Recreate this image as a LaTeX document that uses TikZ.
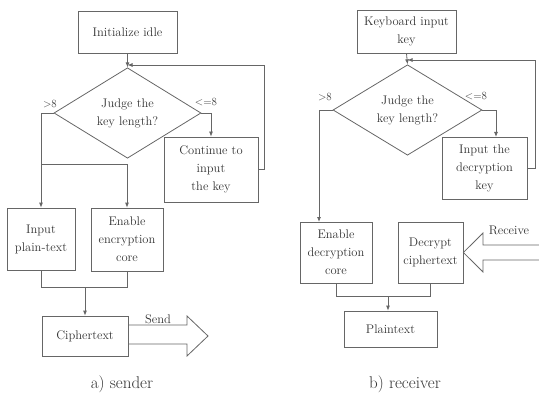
\documentclass[tikz,border=0pt]{standalone}
\usetikzlibrary{shapes.geometric,arrows.meta}
\begin{document}
\begin{tikzpicture}[x=1pt,y=-1pt,
  line width=0.8pt,
  every node/.style={text=black!80},
  box/.style={draw=black!60,rectangle,inner sep=1pt,align=center,font=\fontsize{12.5}{18}\selectfont},
  dia/.style={draw=black!60,diamond,inner sep=0pt,align=center,font=\fontsize{12.5}{18}\selectfont},
  conn/.style={draw=black!60},
  arr/.style={draw=black!60,-{Latex[length=5pt,width=4pt]}},
  lab/.style={font=\fontsize{11}{14}\selectfont,inner sep=0pt},
  arlab/.style={font=\fontsize{12.5}{16}\selectfont,inner sep=0pt,anchor=base},
  captxt/.style={font=\fontsize{17}{20}\selectfont,inner sep=0pt}
]
\useasboundingbox (0,0) rectangle (539,396);
% ---------- sender ----------
\node[box,minimum width=99pt,minimum height=42pt] (init) at (127.5,32) {Initialize idle};
\node[dia,minimum width=147pt,minimum height=70pt] (d1) at (127.5,113) {Judge the\\key length?};
\node[box,minimum width=94pt,minimum height=65pt] (cont) at (211,169.5) {Continue to\\input\\the key};
\node[box,minimum width=68pt,minimum height=62pt] (inp) at (41,239) {Input\\plain-text};
\node[box,minimum width=72pt,minimum height=63pt] (enc) at (127,239.5) {Enable\\encryption\\core};
\node[box,minimum width=86pt,minimum height=40pt] (ciph) at (85,336) {Ciphertext};
\node[lab] (gt1) at (50,104) {>8};
\node[lab] (le1) at (206,102) {<=8};
\node[arlab] (send) at (158,323) {Send};
\node[captxt] (capa) at (122,384) {a) sender};
\draw[arr] (init.south) -- (d1.north);
\draw[arr] (d1.west) -| (inp.north);
\coordinate (b1) at (inp.north |- 0,164);
\draw[arr] (b1) -| (enc.north);
\draw[arr] (d1.east) -| (cont.north);
\coordinate (l1) at (127.5,65);
\draw[arr] (cont.east) -- ++(6,0) |- (l1);
\coordinate (j1) at (0,287);
\draw[conn] (inp.south) -- (inp.south |- j1) -| (enc.south);
\coordinate (j1m) at (ciph.north |- j1);
\draw[arr] (j1m) -- (ciph.north);
\draw[draw=black!60] (ciph.east |- 0,325) -- (187,325) -- (187,316) -- (208,336) -- (187,356) -- (187,344) -- (ciph.east |- 0,344);
% ---------- receiver ----------
\node[box,minimum width=99pt,minimum height=43pt] (key) at (406.5,31.5) {Keyboard input\\key};
\node[dia,minimum width=149pt,minimum height=76pt] (d2) at (407.5,110) {Judge the\\key length?};
\node[box,minimum width=85pt,minimum height=62pt] (inp2) at (484.5,168) {Input the\\decryption\\key};
\node[box,minimum width=72pt,minimum height=61pt] (dec) at (336,252.5) {Enable\\decryption\\core};
\node[box,minimum width=65pt,minimum height=61pt] (dcy) at (430.5,252.5) {Decrypt\\ciphertext};
\node[box,minimum width=93pt,minimum height=36pt] (plain) at (390.5,329) {Plaintext};
\node[lab] (gt2) at (325,97) {>8};
\node[lab] (le2) at (476,96) {<=8};
\node[arlab] (recv) at (509,234) {Receive};
\node[captxt] (capb) at (405,384) {b) receiver};
\draw[arr] (key.south) -- (d2.north);
\coordinate (t2) at (319,222);
\draw[arr] (d2.west) -| (t2);
\coordinate (t3) at (496,137);
\draw[arr] (d2.east) -| (t3);
\coordinate (l2) at (407.5,60);
\draw[arr] (inp2.east) -- ++(8,0) |- (l2);
\coordinate (j2) at (0,296);
\draw[conn] (dec.south) -- (dec.south |- j2) -| (dcy.south);
\coordinate (j2m) at (388,296);
\draw[arr] (j2m) -- (plain.north -| j2m);
\draw[draw=black!60] (539,245) -- (483,245) -- (483,233) -- (dcy.east) -- (483,272) -- (483,260) -- (539,260);
\end{tikzpicture}
\end{document}
